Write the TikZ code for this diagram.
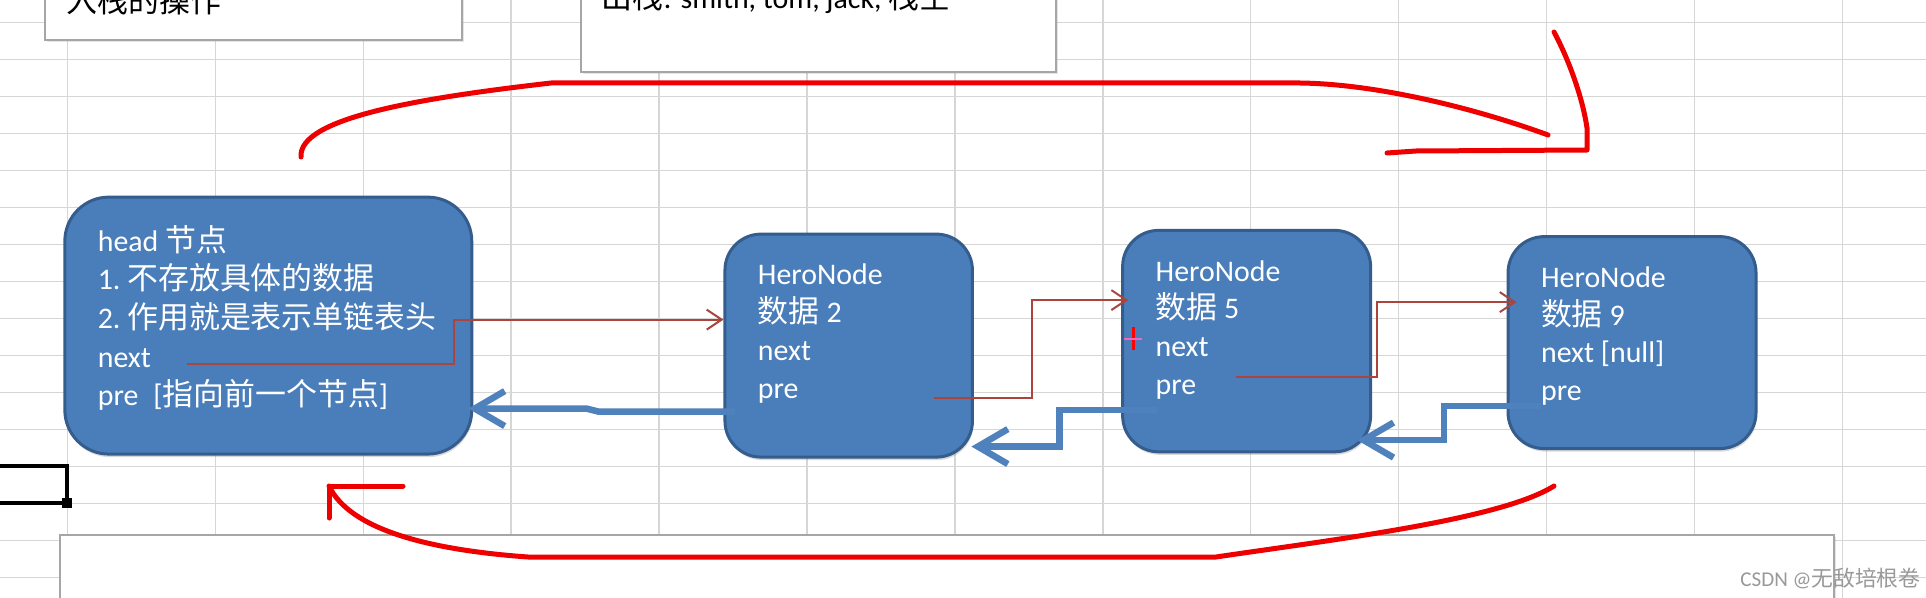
\documentclass[tikz,border=0pt]{standalone}
\usepackage{fontspec}
\setmainfont{Carlito}
\newfontfamily\zhfont[Scale=1.035]{Noto Sans CJK SC}
\newcommand{\zh}[1]{{\zhfont #1}}
\usetikzlibrary{positioning,arrows.meta,shadows}

\definecolor{nodeblue}{RGB}{74,126,187}
\definecolor{nodeedge}{RGB}{52,92,140}
\definecolor{linkblue}{RGB}{79,129,189}
\definecolor{linkred}{RGB}{170,68,60}
\definecolor{penred}{RGB}{238,0,0}
\definecolor{gridgray}{RGB}{214,214,214}
\definecolor{boxgray}{RGB}{166,166,166}

\begin{document}
\begin{tikzpicture}[
    x=0.02cm, y=-0.02cm,
    node distance=8cm,
    heronode/.style={rectangle, rounded corners=0.72cm, draw=nodeedge, fill=nodeblue, line width=0.06cm, text=white, inner xsep=0.66cm, inner ysep=0.6cm, font=\fontsize{17}{21.5}\selectfont, drop shadow={shadow xshift=0.02cm, shadow yshift=-0.06cm, opacity=0.3}},
    notebox/.style={rectangle, draw=boxgray, fill=white, line width=0.04cm, inner sep=0pt, drop shadow={shadow xshift=0.04cm, shadow yshift=-0.04cm, opacity=0.2}},
    notetext/.style={inner sep=0pt, font=\fontsize{17}{21.5}\selectfont},
    gridline/.style={gridgray, line width=0.03cm},
    nextarrow/.style={->, >={Straight Barb[length=0.3cm, width=0.4cm]}, linkred, line width=0.04cm},
    prearrow/.style={->, >={Straight Barb[length=0.6cm, width=0.7cm]}, linkblue, line width=0.13cm},
    penstroke/.style={penred, line width=0.1cm, line cap=round, line join=round}
]
    % Sheet
    \useasboundingbox (0,0) rectangle (1926,598);
    \fill[white] (0,0) rectangle (1926,598);
    \foreach \gx in {0,...,12}
        \draw[gridline] ({67.5+147.9*\gx},0) -- ({67.5+147.9*\gx},598);
    \foreach \gy in {0,...,15}
        \draw[gridline] (0,{22.7+37*\gy}) -- (1926,{22.7+37*\gy});

    % Selected cell
    \draw[line width=0.08cm] (0,466) -- (66.5,466) -- (66.5,503) -- (0,503);
    \fill (61.5,498) rectangle (71.5,508);

    % Text boxes
    \node[notebox, minimum width=8.34cm, minimum height=1.5cm, anchor=south west] (pushbox) at (44,41) {};
    \node[notetext, anchor=base west] (pushtxt) at ([shift={(0.44cm,0.58cm)}]pushbox.south west) {\zh{入栈的操作}};
    \node[notebox, minimum width=9.5cm, minimum height=2cm, anchor=south west] (popbox) at (580,73.3) {};
    \node[notetext, anchor=base west] (poptxt) at ([shift={(0.43cm,1.3cm)}]popbox.south west) {\zh{出栈}: smith, tom, jack, \zh{栈空}};
    \node[notebox, minimum width=35.48cm, minimum height=2cm, anchor=north west] (notes) at (59,534) {};

    % Nodes
    \node[heronode, rounded corners=0.88cm, inner ysep=0.56cm, font=\fontsize{17}{22}\selectfont] (head) at (268.3,325.6) {\parbox[c][4.02cm][t]{6.82cm}{\raggedright head~\zh{节点}\\1.~\zh{不存放具体的数据}\\2.~\zh{作用就是表示单链表头}\\next\\pre\hspace{0.3cm}[\zh{指向前一个节点}]}};
    \node[heronode, right of=head, xshift=3.61cm, yshift=-0.4cm] (n2) {\parbox[c][3.26cm][t]{3.63cm}{\raggedright HeroNode\\\zh{数据} 2\\next\\pre}};
    \node[heronode, right of=n2, xshift=-0.04cm, yshift=0.09cm] (n5) {\parbox[c][3.23cm][t]{3.64cm}{\raggedright HeroNode\\\zh{数据} 5\\next\\pre}};
    \node[heronode, right of=n5, xshift=-0.29cm, yshift=-0.03cm] (n9) {\parbox[c][3.04cm][t]{3.64cm}{\raggedright HeroNode\\\zh{数据} 9\\next [null]\\pre}};

    % next links
    \coordinate (headnext) at ([shift={(2.47cm,-0.77cm)}]head.west);
    \coordinate (n2in) at ([yshift=0.52cm]n2.west);
    \draw[nextarrow] (headnext) -- ++(266.7,0) |- (n2in);
    \coordinate (n2next) at ([shift={(4.21cm,-1.04cm)}]n2.west);
    \coordinate (n5in) at ([shift={(0.14cm,0.82cm)}]n5.west);
    \draw[nextarrow] (n2next) -- ++(97.6,0) |- (n5in);
    \coordinate (n5next) at ([shift={(2.3cm,-0.71cm)}]n5.west);
    \coordinate (n9in) at ([shift={(0.2cm,0.81cm)}]n9.west);
    \draw[nextarrow] (n5next) -- ++(141.3,0) |- (n9in);

    % pre links
    \coordinate (n2pre) at ([shift={(0.24cm,-1.32cm)}]n2.west);
    \coordinate (headpre) at ([shift={(-0.1cm,-1.66cm)}]head.east);
    \draw[prearrow] (n2pre) -- ++(-137,0) -- ++(-12,-3) -- (headpre);
    \coordinate (n5pre) at ([shift={(0.72cm,-1.38cm)}]n5.west);
    \coordinate (n2back) at ([shift={(-0.05cm,-2.02cm)}]n2.east);
    \draw[prearrow] (n5pre) -- ++(-97.4,0) |- (n2back);
    \coordinate (n9pre) at ([shift={(0.69cm,-1.27cm)}]n9.west);
    \coordinate (n5back) at ([shift={(-0.3cm,-1.98cm)}]n5.east);
    \draw[prearrow] (n9pre) -- ++(-97,0) |- (n5back);

    % Pen strokes
    \coordinate (topstart) at (301,157);
    \coordinate (topend) at (1548,135);
    \draw[penstroke] (topstart) .. controls (298,118) and (420,98) .. (551,83) -- (1300,83) .. controls (1380,84) and (1480,110) .. (topend);
    \draw[penstroke] (1554,32) .. controls (1570,62) and (1583,100) .. (1587,128) -- (1587,150) -- (1416,151) -- (1387,153);
    \coordinate (botstart) at (1554,486);
    \coordinate (bottip) at (329,486);
    \draw[penstroke] (botstart) .. controls (1500,520) and (1330,540) .. (1216,557) -- (528,557) .. controls (430,550) and (350,530) .. (bottip);
    \draw[penstroke] (403,486) -- (bottip) -- (329,518);

    % Cursor
    \draw[red, line width=0.06cm] (1133,327) -- (1133,350);
    \draw[magenta!60, line width=0.05cm] (1124,339) -- (1142,339);

    \node[anchor=west, inner sep=0pt, text=gray!80, font=\fontsize{12}{15}\selectfont] (mark) at (1740,578) {CSDN @\zh{无敌培根卷}};
\end{tikzpicture}
\end{document}
